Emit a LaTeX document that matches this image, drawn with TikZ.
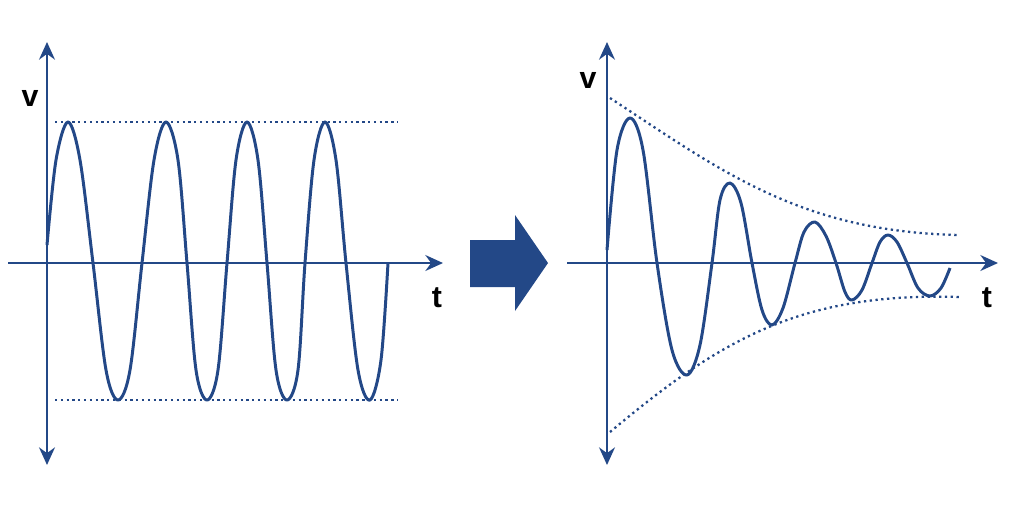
\documentclass[tikz,border=0pt]{standalone}
\usepackage{fontspec}
\setmainfont{Liberation Sans}
\usetikzlibrary{arrows.meta,positioning}
\definecolor{wavecolor}{RGB}{35,72,135}

\begin{document}
\begin{tikzpicture}[
    x=0.02cm, y=-0.02cm,
    axis/.style={draw=wavecolor, line width=1.6pt, -{Stealth[length=10pt,width=9pt]}},
    wave/.style={draw=wavecolor, line width=1.7pt, line join=round},
    bound/.style={draw=wavecolor, line width=1.3pt, dotted},
    lbl/.style={font=\LARGE\bfseries, text=black}
]
\useasboundingbox (0,0) rectangle (1024,512);

% left: undamped oscillation
\coordinate (lo) at (47,263);
\coordinate (ltop) at (47,42);
\coordinate (lbot) at (47,465);
\coordinate (lleft) at (8,263);
\coordinate (lright) at (443,263);
\draw[axis] (lo) -- (ltop);
\draw[axis] (lo) -- (lbot);
\draw[axis] (lleft) -- (lright);
\node[lbl] (lv) at (30,98) {v};
\node[lbl] (lt) at (437,298) {t};
\coordinate (lu1) at (55,122);
\coordinate (lu2) at (398,122);
\coordinate (ll1) at (55,400);
\coordinate (ll2) at (398,400);
\draw[bound] (lu1) -- (lu2);
\draw[bound] (ll1) -- (ll2);
\draw[wave] plot[smooth, tension=0.55] coordinates {
    (47,245) (56,160) (68,122) (80,160) (93,263) (106,370) (118,400) (130,370)
    (142,263) (154,160) (166,122) (178,160) (187,263) (196,370) (207,400) (218,370)
    (227,263) (236,160) (247,122) (258,160) (267,263) (276,370) (287,400) (298,370)
    (305,263) (314,160) (325,122) (336,160) (346,263) (358,370) (370,400) (381,360) (388,263)};

% block arrow
\coordinate (s1) at (470,240);
\coordinate (s2) at (515,240);
\coordinate (h1) at (515,215);
\coordinate (tip) at (548,263);
\coordinate (h2) at (515,311);
\coordinate (s3) at (515,287);
\coordinate (s4) at (470,287);
\fill[wavecolor] (s1) -- (s2) -- (h1) -- (tip) -- (h2) -- (s3) -- (s4) -- cycle;

% right: damped oscillation
\coordinate (ro) at (607,263);
\coordinate (rtop) at (607,42);
\coordinate (rbot) at (607,465);
\coordinate (rleft) at (567,263);
\coordinate (rright) at (998,263);
\draw[axis] (ro) -- (rtop);
\draw[axis] (ro) -- (rbot);
\draw[axis] (rleft) -- (rright);
\node[lbl] (rv) at (588,80) {v};
\node[lbl] (rt) at (987,298) {t};
\coordinate (ru1) at (610,98);
\coordinate (ru2) at (960,235);
\coordinate (rl1) at (610,432);
\coordinate (rl2) at (960,297);
\draw[bound] (ru1) .. controls (720,170) and (800,232) .. (ru2);
\draw[bound] (rl1) .. controls (720,340) and (800,292) .. (rl2);
\draw[wave] plot[smooth, tension=0.55] coordinates {
    (607,250) (617,150) (630,118) (643,150) (657,263) (672,350) (687,375) (700,345)
    (712,263) (720,200) (730,183) (741,203) (752,263) (762,310) (772,325) (783,308)
    (795,263) (804,232) (815,222) (826,236) (836,263) (845,292) (852,300) (862,290)
    (872,263) (880,242) (888,235) (897,242) (907,263) (918,288) (930,296) (941,288) (950,268)};
\end{tikzpicture}
\end{document}
